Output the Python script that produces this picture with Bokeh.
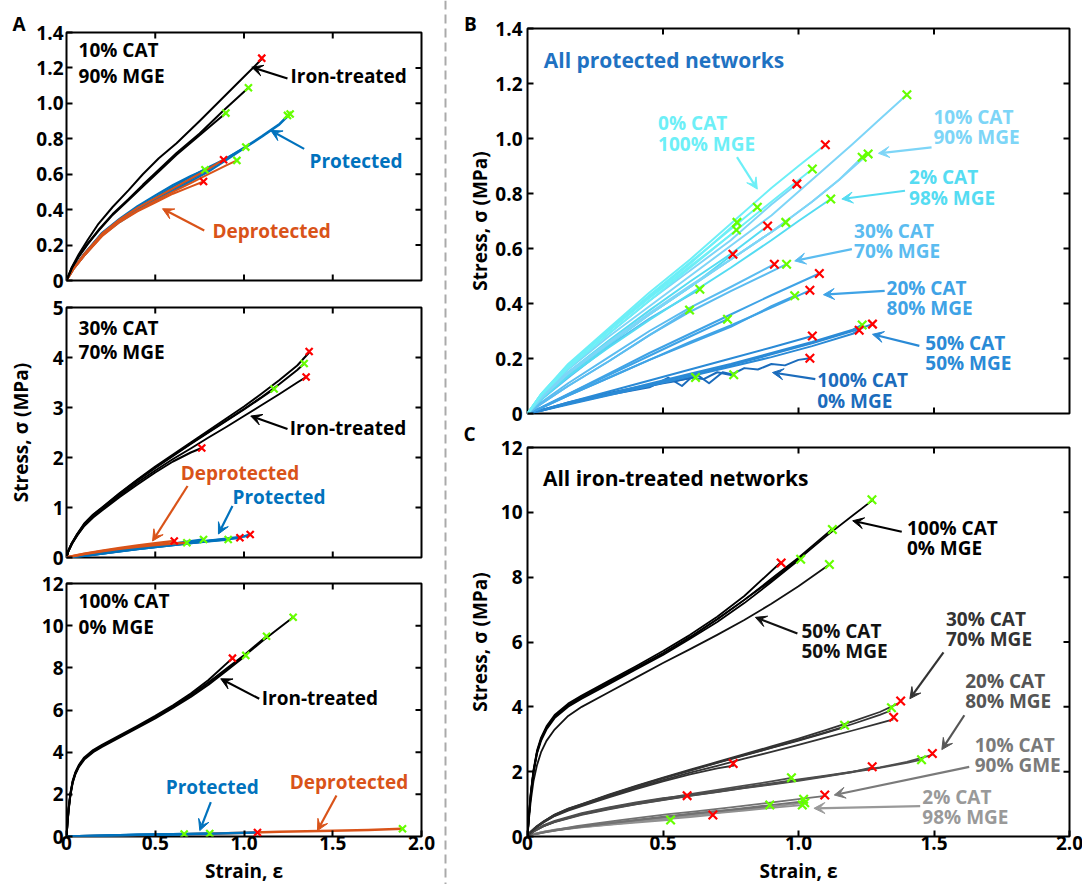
import math
from bokeh.plotting import figure
from bokeh.models import (LinearAxis, FixedTicker, Label, Arrow, VeeHead, Span,
                          Range1d, CustomJSTickFormatter)
from bokeh.layouts import row, column
from bokeh.embed import file_html
from bokeh.resources import INLINE

# ======================= DATA =======================
STRAIN_TICKS = [0, 0.5, 1.0, 1.5, 2.0]
A1_TICKS = [0, 0.2, 0.4, 0.6, 0.8, 1.0, 1.2, 1.4]
A2_TICKS = [0, 1, 2, 3, 4, 5]
A3_TICKS = [0, 2, 4, 6, 8, 10, 12]
B_TICKS = [0, 0.2, 0.4, 0.6, 0.8, 1.0, 1.2, 1.4]
C_TICKS = [0, 2, 4, 6, 8, 10, 12]

# ---- Panel A, top: 10% CAT / 90% MGE ----
A1_IRON_X = [
    [0, 0.03, 0.07, 0.12, 0.18, 0.26, 0.35, 0.43, 0.52, 0.62, 0.75, 0.88, 1.0, 1.10],
    [0, 0.03, 0.07, 0.12, 0.18, 0.26, 0.35, 0.43, 0.52, 0.62, 0.75, 0.898],
    [0, 0.03, 0.07, 0.12, 0.18, 0.26, 0.35, 0.43, 0.52, 0.62, 0.75, 0.88, 1.025],
]
A1_IRON_Y = [
    [0, 0.075, 0.15, 0.23, 0.32, 0.415, 0.51, 0.60, 0.69, 0.775, 0.9, 1.03, 1.15, 1.25],
    [0, 0.07, 0.135, 0.205, 0.28, 0.37, 0.455, 0.53, 0.615, 0.71, 0.82, 0.945],
    [0, 0.07, 0.14, 0.21, 0.285, 0.375, 0.46, 0.54, 0.625, 0.72, 0.83, 0.955, 1.088],
]
A1_PROT_X = [
    [0, 0.04, 0.1, 0.2, 0.3, 0.4, 0.5, 0.6, 0.7, 0.8, 0.9, 1.0, 1.1, 1.2, 1.25],
    [0, 0.04, 0.1, 0.2, 0.3, 0.4, 0.5, 0.6, 0.7, 0.8, 0.9, 1.0, 1.1, 1.2, 1.26],
    [0, 0.04, 0.1, 0.2, 0.3, 0.4, 0.5, 0.6, 0.7, 0.8, 0.9, 1.01],
    [0, 0.04, 0.1, 0.2, 0.3, 0.4, 0.5, 0.6, 0.7, 0.78],
]
A1_PROT_Y = [
    [0, 0.07, 0.15, 0.265, 0.34, 0.405, 0.46, 0.515, 0.57, 0.625, 0.69, 0.75, 0.815, 0.885, 0.935],
    [0, 0.065, 0.14, 0.255, 0.33, 0.395, 0.45, 0.505, 0.56, 0.615, 0.68, 0.745, 0.81, 0.88, 0.94],
    [0, 0.07, 0.15, 0.265, 0.345, 0.41, 0.47, 0.53, 0.585, 0.64, 0.69, 0.753],
    [0, 0.07, 0.15, 0.27, 0.35, 0.42, 0.48, 0.54, 0.59, 0.625],
]
A1_DEPROT_X = [
    [0, 0.04, 0.1, 0.2, 0.3, 0.4, 0.5, 0.6, 0.7, 0.772],
    [0, 0.04, 0.1, 0.2, 0.3, 0.4, 0.5, 0.6, 0.7, 0.8, 0.885],
    [0, 0.04, 0.1, 0.2, 0.3, 0.4, 0.5, 0.6, 0.7, 0.8, 0.9, 0.96],
]
A1_DEPROT_Y = [
    [0, 0.065, 0.14, 0.25, 0.33, 0.39, 0.44, 0.49, 0.53, 0.559],
    [0, 0.07, 0.15, 0.265, 0.345, 0.41, 0.465, 0.52, 0.575, 0.63, 0.682],
    [0, 0.065, 0.14, 0.255, 0.335, 0.395, 0.45, 0.5, 0.55, 0.6, 0.65, 0.678],
]
A1_RED_X = [1.10, 0.885, 0.772]
A1_RED_Y = [1.255, 0.682, 0.559]
A1_GREEN_X = [0.898, 1.025, 0.78, 1.01, 0.96, 1.245, 1.26]
A1_GREEN_Y = [0.945, 1.088, 0.625, 0.753, 0.678, 0.932, 0.94]

# ---- Panel A, middle: 30% CAT / 70% MGE ----
A2_IRON_X = [
    [0, 0.01, 0.03, 0.06, 0.1, 0.15, 0.2, 0.3, 0.4, 0.5, 0.6, 0.7, 0.8, 0.9, 1.0, 1.1, 1.2, 1.3, 1.367],
    [0, 0.01, 0.03, 0.06, 0.1, 0.15, 0.2, 0.3, 0.4, 0.5, 0.6, 0.7, 0.8, 0.9, 1.0, 1.1, 1.2, 1.3, 1.339],
    [0, 0.01, 0.03, 0.06, 0.1, 0.15, 0.2, 0.3, 0.4, 0.5, 0.6, 0.7, 0.8, 0.9, 1.0, 1.1, 1.2, 1.3, 1.35],
    [0, 0.01, 0.03, 0.06, 0.1, 0.15, 0.2, 0.3, 0.4, 0.5, 0.6, 0.7, 0.8, 0.9, 1.0, 1.1, 1.17],
    [0, 0.01, 0.03, 0.06, 0.1, 0.15, 0.2, 0.3, 0.4, 0.5, 0.6, 0.7, 0.762],
]
A2_IRON_Y = [
    [0, 0.13, 0.29, 0.47, 0.68, 0.86, 1.0, 1.29, 1.56, 1.82, 2.06, 2.3, 2.54, 2.78, 3.02, 3.28, 3.55, 3.84, 4.1],
    [0, 0.13, 0.28, 0.46, 0.67, 0.85, 0.99, 1.28, 1.55, 1.8, 2.04, 2.28, 2.51, 2.74, 2.97, 3.21, 3.47, 3.75, 3.88],
    [0, 0.12, 0.27, 0.44, 0.64, 0.82, 0.96, 1.24, 1.5, 1.74, 1.97, 2.18, 2.4, 2.61, 2.83, 3.05, 3.27, 3.5, 3.61],
    [0, 0.13, 0.28, 0.46, 0.66, 0.84, 0.98, 1.27, 1.54, 1.79, 2.03, 2.27, 2.5, 2.73, 2.96, 3.2, 3.37],
    [0, 0.12, 0.27, 0.44, 0.63, 0.8, 0.94, 1.21, 1.46, 1.7, 1.92, 2.1, 2.19],
]
A2_PROT_X = [
    [0, 0.1, 0.2, 0.3, 0.4, 0.5, 0.6, 0.7, 0.8, 0.9, 1.0, 1.035],
    [0, 0.1, 0.2, 0.3, 0.4, 0.5, 0.6, 0.7, 0.8, 0.9, 0.977],
    [0, 0.1, 0.2, 0.3, 0.4, 0.5, 0.6, 0.7, 0.8, 0.911],
    [0, 0.1, 0.2, 0.3, 0.4, 0.5, 0.6, 0.7, 0.772],
]
A2_PROT_Y = [
    [0, 0.035, 0.08, 0.13, 0.175, 0.215, 0.255, 0.295, 0.335, 0.375, 0.42, 0.46],
    [0, 0.035, 0.08, 0.125, 0.17, 0.21, 0.25, 0.29, 0.33, 0.365, 0.395],
    [0, 0.035, 0.08, 0.125, 0.17, 0.21, 0.25, 0.29, 0.325, 0.36],
    [0, 0.04, 0.09, 0.14, 0.185, 0.23, 0.275, 0.325, 0.36],
]
A2_DEPROT_X = [
    [0, 0.05, 0.1, 0.2, 0.3, 0.4, 0.5, 0.607],
    [0, 0.05, 0.1, 0.2, 0.3, 0.4, 0.5, 0.6, 0.678],
]
A2_DEPROT_Y = [
    [0, 0.04, 0.075, 0.135, 0.19, 0.24, 0.285, 0.33],
    [0, 0.035, 0.07, 0.125, 0.175, 0.215, 0.25, 0.28, 0.295],
]
A2_RED_X = [1.367, 1.35, 0.762, 0.607, 0.977, 1.035]
A2_RED_Y = [4.12, 3.61, 2.19, 0.33, 0.395, 0.46]
A2_GREEN_X = [1.339, 1.17, 0.678, 0.772, 0.911]
A2_GREEN_Y = [3.88, 3.37, 0.295, 0.36, 0.36]

# ---- Panel A, bottom: 100% CAT / 0% MGE ----
A3_IRON_X = [
    [0, 0.005, 0.012, 0.022, 0.035, 0.05, 0.07, 0.1, 0.15, 0.2, 0.3, 0.4, 0.5, 0.6, 0.7, 0.8, 0.9, 1.0, 1.1, 1.2, 1.277],
    [0, 0.005, 0.012, 0.022, 0.035, 0.05, 0.07, 0.1, 0.15, 0.2, 0.3, 0.4, 0.5, 0.6, 0.7, 0.8, 0.9, 1.0, 1.127],
    [0, 0.005, 0.012, 0.022, 0.035, 0.05, 0.07, 0.1, 0.15, 0.2, 0.3, 0.4, 0.5, 0.6, 0.7, 0.8, 0.9, 1.01],
    [0, 0.005, 0.012, 0.022, 0.035, 0.05, 0.07, 0.1, 0.15, 0.2, 0.3, 0.4, 0.5, 0.6, 0.7, 0.8, 0.935],
]
A3_IRON_Y = [
    [0, 0.6, 1.3, 2.0, 2.6, 3.0, 3.35, 3.7, 4.05, 4.3, 4.75, 5.2, 5.65, 6.15, 6.7, 7.3, 7.9, 8.55, 9.25, 9.9, 10.4],
    [0, 0.6, 1.3, 2.0, 2.6, 3.0, 3.35, 3.7, 4.05, 4.3, 4.75, 5.2, 5.65, 6.15, 6.7, 7.3, 7.95, 8.6, 9.5],
    [0, 0.55, 1.25, 1.95, 2.55, 2.95, 3.3, 3.65, 4.0, 4.25, 4.7, 5.15, 5.6, 6.1, 6.62, 7.2, 7.85, 8.59],
    [0, 0.65, 1.35, 2.05, 2.65, 3.05, 3.4, 3.75, 4.1, 4.35, 4.8, 5.25, 5.72, 6.22, 6.78, 7.42, 8.46],
]
A3_PROT_X = [[0, 0.2, 0.4, 0.6, 0.663], [0, 0.2, 0.4, 0.6, 0.807], [0, 0.2, 0.4, 0.6, 0.8, 1.076]]
A3_PROT_Y = [[0, 0.04, 0.08, 0.11, 0.12], [0, 0.04, 0.08, 0.11, 0.14], [0, 0.035, 0.07, 0.1, 0.135, 0.19]]
A3_DEPROT_X = [[0, 0.3, 0.6, 0.9, 1.2, 1.5, 1.7, 1.893]]
A3_DEPROT_Y = [[0, 0.05, 0.1, 0.16, 0.22, 0.27, 0.31, 0.37]]
A3_RED_X = [0.935, 1.076]
A3_RED_Y = [8.46, 0.19]
A3_GREEN_X = [1.277, 1.127, 1.01, 0.663, 0.807, 1.893]
A3_GREEN_Y = [10.4, 9.5, 8.59, 0.12, 0.14, 0.37]

# ---- Panel B: all protected networks ----
B_0_X = [
    [0, 0.05, 0.15, 0.3, 0.45, 0.6, 0.75, 0.9, 1.0, 1.099],
    [0, 0.05, 0.15, 0.3, 0.45, 0.6, 0.75, 0.848],
    [0, 0.05, 0.15, 0.3, 0.45, 0.6, 0.773],
    [0, 0.05, 0.15, 0.3, 0.45, 0.6, 0.771],
    [0, 0.05, 0.15, 0.3, 0.45, 0.6, 0.75, 0.9, 1.051],
]
B_0_Y = [
    [0, 0.07, 0.18, 0.31, 0.44, 0.56, 0.69, 0.82, 0.9, 0.977],
    [0, 0.07, 0.175, 0.305, 0.43, 0.55, 0.67, 0.75],
    [0, 0.07, 0.175, 0.3, 0.425, 0.545, 0.695],
    [0, 0.065, 0.165, 0.29, 0.41, 0.53, 0.667],
    [0, 0.07, 0.175, 0.3, 0.42, 0.535, 0.65, 0.77, 0.889],
]
B_10_X = [
    [0, 0.05, 0.15, 0.3, 0.45, 0.6, 0.75, 0.9, 1.05, 1.2, 1.3, 1.4],
    [0, 0.05, 0.15, 0.3, 0.45, 0.6, 0.75, 0.9, 1.05, 1.15, 1.257],
    [0, 0.05, 0.15, 0.3, 0.45, 0.6, 0.75, 0.9, 1.05, 1.15, 1.235],
    [0, 0.05, 0.15, 0.3, 0.45, 0.6, 0.75, 0.9, 0.994],
]
B_10_Y = [
    [0, 0.06, 0.16, 0.28, 0.39, 0.5, 0.61, 0.72, 0.85, 0.98, 1.07, 1.159],
    [0, 0.055, 0.15, 0.26, 0.365, 0.465, 0.56, 0.66, 0.77, 0.85, 0.944],
    [0, 0.055, 0.145, 0.255, 0.36, 0.46, 0.56, 0.66, 0.77, 0.85, 0.932],
    [0, 0.065, 0.165, 0.29, 0.41, 0.52, 0.63, 0.76, 0.835],
]
B_2_X = [
    [0, 0.05, 0.15, 0.3, 0.45, 0.6, 0.75, 0.9, 1.0, 1.119],
    [0, 0.05, 0.15, 0.3, 0.45, 0.6, 0.75, 0.953],
    [0, 0.05, 0.15, 0.3, 0.45, 0.6, 0.75, 0.886],
    [0, 0.05, 0.15, 0.3, 0.45, 0.6, 0.758],
]
B_2_Y = [
    [0, 0.05, 0.135, 0.24, 0.34, 0.435, 0.53, 0.63, 0.7, 0.78],
    [0, 0.055, 0.145, 0.255, 0.36, 0.46, 0.56, 0.695],
    [0, 0.06, 0.15, 0.265, 0.375, 0.48, 0.58, 0.682],
    [0, 0.055, 0.14, 0.25, 0.36, 0.46, 0.579],
]
B_30_X = [
    [0, 0.05, 0.15, 0.3, 0.45, 0.6, 0.75, 0.956],
    [0, 0.05, 0.15, 0.3, 0.45, 0.6, 0.75, 0.911],
    [0, 0.05, 0.15, 0.3, 0.45, 0.636],
    [0, 0.05, 0.15, 0.3, 0.45, 0.598],
]
B_30_Y = [
    [0, 0.035, 0.1, 0.19, 0.285, 0.37, 0.445, 0.543],
    [0, 0.04, 0.11, 0.205, 0.3, 0.385, 0.46, 0.543],
    [0, 0.05, 0.13, 0.245, 0.345, 0.452],
    [0, 0.035, 0.1, 0.19, 0.285, 0.376],
]
B_20_X = [
    [0, 0.05, 0.15, 0.3, 0.45, 0.6, 0.75, 0.9, 1.077],
    [0, 0.05, 0.15, 0.3, 0.45, 0.6, 0.75, 0.9, 1.042],
    [0, 0.05, 0.15, 0.3, 0.45, 0.6, 0.75, 0.9, 0.986],
    [0, 0.05, 0.15, 0.3, 0.45, 0.6, 0.738],
]
B_20_Y = [
    [0, 0.02, 0.07, 0.145, 0.22, 0.29, 0.36, 0.43, 0.509],
    [0, 0.02, 0.065, 0.13, 0.195, 0.26, 0.32, 0.385, 0.448],
    [0, 0.02, 0.065, 0.13, 0.195, 0.255, 0.315, 0.39, 0.428],
    [0, 0.022, 0.07, 0.14, 0.21, 0.28, 0.343],
]
B_50_X = [
    [0, 0.05, 0.15, 0.3, 0.45, 0.6, 0.75, 0.9, 1.05, 1.2, 1.273],
    [0, 0.05, 0.15, 0.3, 0.45, 0.6, 0.75, 0.9, 1.05, 1.2, 1.235],
    [0, 0.05, 0.15, 0.3, 0.45, 0.6, 0.75, 0.9, 1.05, 1.2, 1.224],
    [0, 0.05, 0.15, 0.3, 0.45, 0.6, 0.75, 0.9, 1.051],
]
B_50_Y = [
    [0, 0.01, 0.035, 0.07, 0.105, 0.14, 0.175, 0.215, 0.255, 0.3, 0.325],
    [0, 0.01, 0.036, 0.072, 0.108, 0.145, 0.18, 0.22, 0.26, 0.305, 0.322],
    [0, 0.01, 0.033, 0.066, 0.1, 0.135, 0.17, 0.205, 0.245, 0.29, 0.303],
    [0, 0.012, 0.04, 0.08, 0.12, 0.16, 0.2, 0.24, 0.282],
]
B_100_X = [
    [0, 0.05, 0.15, 0.3, 0.4, 0.45, 0.5, 0.55, 0.6, 0.65, 0.7, 0.75, 0.8, 0.85, 0.9, 0.95, 1.0, 1.042],
    [0, 0.05, 0.15, 0.3, 0.45, 0.52, 0.57, 0.62, 0.67, 0.72, 0.761],
    [0, 0.05, 0.15, 0.3, 0.45, 0.62],
]
B_100_Y = [
    [0, 0.012, 0.035, 0.07, 0.09, 0.1, 0.11, 0.118, 0.13, 0.125, 0.15, 0.14, 0.165, 0.16, 0.18, 0.175, 0.195, 0.201],
    [0, 0.012, 0.035, 0.068, 0.095, 0.13, 0.1, 0.145, 0.11, 0.15, 0.141],
    [0, 0.012, 0.04, 0.075, 0.105, 0.131],
]
B_RED_X = [1.099, 0.994, 0.886, 0.758, 0.911, 1.077, 1.042, 1.273, 1.224, 1.051, 1.042]
B_RED_Y = [0.977, 0.835, 0.682, 0.579, 0.543, 0.509, 0.448, 0.325, 0.303, 0.282, 0.201]
B_GREEN_X = [1.40, 1.051, 1.235, 1.257, 1.119, 0.848, 0.953, 0.773, 0.771, 0.956, 0.636, 0.598,
             0.986, 0.738, 1.235, 0.62, 0.761]
B_GREEN_Y = [1.159, 0.889, 0.932, 0.944, 0.78, 0.75, 0.695, 0.695, 0.667, 0.543, 0.452, 0.376,
             0.428, 0.343, 0.322, 0.131, 0.141]

# ---- Panel C: all iron-treated networks ----
C_100_X, C_100_Y = A3_IRON_X, A3_IRON_Y
C_30_X, C_30_Y = A2_IRON_X, A2_IRON_Y
C_10_X, C_10_Y = A1_IRON_X, A1_IRON_Y
C_50_X = [[0, 0.005, 0.012, 0.022, 0.035, 0.05, 0.07, 0.1, 0.15, 0.2, 0.3, 0.4, 0.5, 0.6, 0.7, 0.8, 0.9, 1.0, 1.114]]
C_50_Y = [[0, 0.5, 1.1, 1.7, 2.2, 2.6, 2.95, 3.3, 3.72, 4.0, 4.45, 4.9, 5.35, 5.78, 6.22, 6.68, 7.18, 7.72, 8.39]]
C_20_X = [
    [0, 0.01, 0.03, 0.06, 0.1, 0.2, 0.3, 0.4, 0.5, 0.6, 0.7, 0.8, 0.9, 1.0, 1.1, 1.2, 1.3, 1.4, 1.494],
    [0, 0.01, 0.03, 0.06, 0.1, 0.2, 0.3, 0.4, 0.5, 0.6, 0.7, 0.8, 0.9, 1.0, 1.1, 1.2, 1.3, 1.4, 1.454],
    [0, 0.01, 0.03, 0.06, 0.1, 0.2, 0.3, 0.4, 0.5, 0.6, 0.7, 0.8, 0.9, 1.0, 1.1, 1.2, 1.272],
    [0, 0.01, 0.03, 0.06, 0.1, 0.2, 0.3, 0.4, 0.5, 0.6, 0.7, 0.8, 0.9, 0.974],
    [0, 0.01, 0.03, 0.06, 0.1, 0.2, 0.3, 0.4, 0.5, 0.589],
]
C_20_Y = [
    [0, 0.08, 0.2, 0.33, 0.46, 0.7, 0.87, 1.02, 1.15, 1.28, 1.4, 1.52, 1.64, 1.76, 1.88, 2.0, 2.13, 2.3, 2.52],
    [0, 0.08, 0.19, 0.32, 0.45, 0.68, 0.85, 1.0, 1.13, 1.26, 1.38, 1.5, 1.62, 1.74, 1.86, 1.99, 2.12, 2.27, 2.37],
    [0, 0.08, 0.19, 0.32, 0.44, 0.67, 0.84, 0.99, 1.12, 1.25, 1.37, 1.49, 1.6, 1.72, 1.85, 1.99, 2.13],
    [0, 0.08, 0.2, 0.33, 0.46, 0.7, 0.88, 1.03, 1.17, 1.31, 1.44, 1.57, 1.7, 1.81],
    [0, 0.09, 0.21, 0.35, 0.48, 0.72, 0.9, 1.05, 1.18, 1.26],
]
C_2_X = [
    [0, 0.01, 0.03, 0.06, 0.1, 0.2, 0.3, 0.4, 0.5, 0.6, 0.7, 0.8, 0.9, 1.023],
    [0, 0.01, 0.03, 0.06, 0.1, 0.2, 0.3, 0.4, 0.5, 0.6, 0.7, 0.8, 0.9, 1.014],
    [0, 0.01, 0.03, 0.06, 0.1, 0.2, 0.3, 0.4, 0.5, 0.6, 0.684],
    [0, 0.01, 0.03, 0.06, 0.1, 0.2, 0.3, 0.4, 0.528],
]
C_2_Y = [
    [0, 0.04, 0.09, 0.15, 0.21, 0.32, 0.41, 0.5, 0.58, 0.66, 0.74, 0.83, 0.92, 1.04],
    [0, 0.04, 0.09, 0.145, 0.2, 0.31, 0.4, 0.48, 0.56, 0.64, 0.72, 0.8, 0.88, 0.97],
    [0, 0.04, 0.085, 0.14, 0.19, 0.29, 0.37, 0.45, 0.53, 0.6, 0.665],
    [0, 0.04, 0.085, 0.14, 0.19, 0.28, 0.36, 0.43, 0.51],
]
C_RED_X = [0.936, 1.377, 1.351, 0.759, 1.494, 1.272, 0.589, 1.097, 0.684]
C_RED_Y = [8.44, 4.18, 3.68, 2.25, 2.56, 2.15, 1.26, 1.28, 0.665]
C_GREEN_X = [1.271, 1.125, 1.008, 1.114, 1.343, 1.17, 1.454, 0.974, 1.019, 0.894, 1.014, 1.023, 0.528]
C_GREEN_Y = [10.39, 9.47, 8.55, 8.39, 3.97, 3.43, 2.37, 1.81, 1.15, 0.97, 0.97, 1.04, 0.51]

# ======================= STYLE =======================
FONT = "Open Sans"
TXT = "19px"
BLUE = "#0072BD"
ORANGE = "#D95319"
RED = "#FF0000"
GREEN = "#66FF00"
COL_B = {"0": "#6DEFF7", "10": "#7DD5F7", "2": "#55DCF2", "30": "#5BBCF0",
         "20": "#3FA3E6", "50": "#2A8AD6", "100": "#1B6CBC"}
COL_C = {"100": "#000000", "50": "#111111", "30": "#333333", "20": "#4d4d4d",
         "10": "#727272", "2": "#919191"}
FMT1 = "return tick == 0 ? '0' : tick.toFixed(1);"
FMT0 = "return tick.toFixed(0);"


def base_fig(fw, fh, ymax, bl, br, bt, bb):
    p = figure(frame_width=fw, frame_height=fh, x_range=Range1d(0, 2), y_range=Range1d(0, ymax),
               x_axis_type=None, y_axis_type=None, output_backend="svg", toolbar_location=None,
               min_border_left=bl, min_border_right=br, min_border_top=bt, min_border_bottom=bb)
    p.outline_line_color = "black"
    p.outline_line_width = 2
    p.outline_line_alpha = 1.0
    p.background_fill_color = "white"
    p.border_fill_color = "white"
    return p


def gutter(w, h):
    g = figure(frame_width=w, frame_height=h, x_range=Range1d(0, w), y_range=Range1d(0, h),
               x_axis_type=None, y_axis_type=None, output_backend="svg", toolbar_location=None,
               min_border_left=0, min_border_right=0, min_border_top=0, min_border_bottom=0)
    g.outline_line_color = None
    g.background_fill_color = "white"
    g.border_fill_color = "white"
    return g


def add_axis(p, side, ticks, fmt, tick_standoff, label=None, label_standoff=0):
    ax = LinearAxis(ticker=FixedTicker(ticks=ticks, minor_ticks=[]),
                    formatter=CustomJSTickFormatter(code=fmt))
    ax.axis_line_color = None
    ax.major_tick_in = 6
    ax.major_tick_out = 0
    ax.major_tick_line_color = "black"
    ax.major_tick_line_width = 2
    ax.minor_tick_line_color = None
    ax.major_label_text_font = FONT
    ax.major_label_text_font_style = "bold"
    ax.major_label_text_font_size = TXT
    ax.major_label_text_color = "black"
    ax.major_label_standoff = tick_standoff
    if label:
        ax.axis_label = label
        ax.axis_label_text_font = FONT
        ax.axis_label_text_font_style = "bold"
        ax.axis_label_text_font_size = TXT
        ax.axis_label_text_color = "black"
        ax.axis_label_standoff = label_standoff
    p.add_layout(ax, side)


def edge_ticks(p, xt, yt, top=True, bottom=False, right=True):
    """Inward tick marks on unlabeled sides: a dash centred on the frame edge, half clipped."""
    xs = [t for t in xt if 0 < t < 2]
    ymax = yt[-1]
    ys = [t for t in yt if 0 < t < ymax]
    if top:
        p.scatter(x=xs, y=[ymax] * len(xs), marker="dash", angle=math.pi / 2, size=12,
                  line_color="black", line_width=2)
    if bottom:
        p.scatter(x=xs, y=[0] * len(xs), marker="dash", angle=math.pi / 2, size=12,
                  line_color="black", line_width=2)
    if right:
        p.scatter(x=[2] * len(ys), y=ys, marker="dash", size=12, line_color="black", line_width=2)


def text(p, x, ys, lines, color, size=TXT, align="left", baseline="middle", angle=0.0):
    for y, t in zip(ys, lines):
        p.add_layout(Label(x=x, y=y, text=t, text_font=FONT, text_font_style="bold",
                           text_font_size=size, text_color=color, text_align=align,
                           text_baseline=baseline, angle=angle))


def arrow(p, x0, y0, x1, y1, color):
    p.add_layout(Arrow(end=VeeHead(size=11, fill_color=color, line_color=color, line_width=1),
                       x_start=x0, y_start=y0, x_end=x1, y_end=y1,
                       line_color=color, line_width=2.2))


def curves(p, xs, ys, color, lw=2.0):
    p.multi_line(xs=xs, ys=ys, line_color=color, line_width=lw, line_join="round")


def marks(p, rx, ry, gx, gy, size=10):
    p.scatter(x=gx, y=gy, marker="x", size=size, line_color=GREEN, line_width=2.2)
    p.scatter(x=rx, y=ry, marker="x", size=size, line_color=RED, line_width=2.2)


# ======================= PANEL A (page x 33..441) =======================
a1 = base_fig(355, 248, 1.4, 31, 22, 32, 13)
add_axis(a1, "left", A1_TICKS, FMT1, 3)
edge_ticks(a1, STRAIN_TICKS, A1_TICKS, top=True, bottom=True, right=True)
curves(a1, A1_PROT_X, A1_PROT_Y, BLUE)
curves(a1, A1_DEPROT_X, A1_DEPROT_Y, ORANGE)
curves(a1, A1_IRON_X, A1_IRON_Y, "black")
marks(a1, A1_RED_X, A1_RED_Y, A1_GREEN_X, A1_GREEN_Y)
text(a1, 0.068, [1.304, 1.157], ["10% CAT", "90% MGE"], "black")
text(a1, 1.262, [1.157], ["Iron-treated"], "black")
arrow(a1, 1.245, 1.14, 1.044, 1.204, "black")
text(a1, 1.369, [0.677], ["Protected"], BLUE)
arrow(a1, 1.339, 0.743, 1.151, 0.847, BLUE)
text(a1, 0.822, [0.282], ["Deprotected"], ORANGE)
arrow(a1, 0.776, 0.282, 0.541, 0.405, ORANGE)

a2 = base_fig(355, 250, 5, 31, 22, 14, 12)
add_axis(a2, "left", A2_TICKS, FMT0, 3)
edge_ticks(a2, STRAIN_TICKS, A2_TICKS, top=True, bottom=True, right=True)
curves(a2, A2_IRON_X, A2_IRON_Y, "black")
curves(a2, A2_PROT_X, A2_PROT_Y, BLUE, 2.5)
curves(a2, A2_DEPROT_X, A2_DEPROT_Y, ORANGE, 2.5)
marks(a2, A2_RED_X, A2_RED_Y, A2_GREEN_X, A2_GREEN_Y)
text(a2, 0.068, [4.6, 4.11], ["30% CAT", "70% MGE"], "black")
text(a2, 1.258, [2.6], ["Iron-treated"], "black")
arrow(a2, 1.245, 2.57, 1.038, 2.83, "black")
text(a2, 0.644, [1.7], ["Deprotected"], ORANGE)
arrow(a2, 0.682, 1.43, 0.485, 0.33, ORANGE)
text(a2, 0.935, [1.21], ["Protected"], BLUE)
arrow(a2, 0.935, 1.03, 0.856, 0.47, BLUE)

a3 = base_fig(355, 253, 12, 31, 22, 14, 48)
add_axis(a3, "left", A3_TICKS, FMT0, 3)
add_axis(a3, "below", STRAIN_TICKS, FMT1, -1, label="Strain, ε", label_standoff=5)
edge_ticks(a3, STRAIN_TICKS, A3_TICKS, top=True, bottom=False, right=True)
curves(a3, A3_IRON_X, A3_IRON_Y, "black")
curves(a3, A3_DEPROT_X, A3_DEPROT_Y, ORANGE, 2.5)
curves(a3, A3_PROT_X, A3_PROT_Y, BLUE, 2.5)
marks(a3, A3_RED_X, A3_RED_Y, A3_GREEN_X, A3_GREEN_Y)
text(a3, 0.068, [11.16, 9.96], ["100% CAT", "0% MGE"], "black")
text(a3, 1.10, [6.56], ["Iron-treated"], "black")
arrow(a3, 1.086, 6.53, 0.869, 7.48, "black")
text(a3, 0.559, [2.37], ["Protected"], BLUE)
arrow(a3, 0.813, 1.63, 0.751, 0.28, BLUE)
text(a3, 1.258, [2.58], ["Deprotected"], ORANGE)
arrow(a3, 1.521, 1.94, 1.414, 0.28, ORANGE)

# left gutter (page x 0..33, full height): letter A and the y label of panel A
gut_l = gutter(33, 884)
text(gut_l, 18.5, [861], ["A"], "black", align="center")
text(gut_l, 20, [452], ["Stress, σ (MPa)"], "black", align="center", angle=math.pi / 2)

# ======================= PANEL B (page x 490..1082) =======================
b = base_fig(542, 385, 1.4, 33, 17, 28, 21)
add_axis(b, "left", B_TICKS, FMT1, 5)
edge_ticks(b, STRAIN_TICKS, B_TICKS, top=True, bottom=True, right=True)
curves(b, B_100_X, B_100_Y, COL_B["100"])
curves(b, B_50_X, B_50_Y, COL_B["50"])
curves(b, B_20_X, B_20_Y, COL_B["20"])
curves(b, B_30_X, B_30_Y, COL_B["30"])
curves(b, B_2_X, B_2_Y, COL_B["2"])
curves(b, B_10_X, B_10_Y, COL_B["10"])
curves(b, B_0_X, B_0_Y, COL_B["0"])
marks(b, B_RED_X, B_RED_Y, B_GREEN_X, B_GREEN_Y, size=12)
text(b, 0.06, [1.284], ["All protected networks"], "#1F72C2", size="21px")
text(b, 0.482, [1.056, 0.98], ["0% CAT", "100% MGE"], COL_B["0"])
arrow(b, 0.773, 0.932, 0.848, 0.816, COL_B["0"])
text(b, 1.498, [1.078, 1.005], ["10% CAT", "90% MGE"], COL_B["10"])
arrow(b, 1.491, 0.968, 1.295, 0.946, COL_B["10"])
text(b, 1.408, [0.859, 0.785], ["2% CAT", "98% MGE"], COL_B["2"])
arrow(b, 1.393, 0.81, 1.16, 0.78, COL_B["2"])
text(b, 1.205, [0.664, 0.592], ["30% CAT", "70% MGE"], COL_B["30"])
arrow(b, 1.197, 0.598, 0.986, 0.555, COL_B["30"])
text(b, 1.325, [0.458, 0.383], ["20% CAT", "80% MGE"], COL_B["20"])
arrow(b, 1.318, 0.446, 1.092, 0.432, COL_B["20"])
text(b, 1.468, [0.258, 0.182], ["50% CAT", "50% MGE"], COL_B["50"])
arrow(b, 1.446, 0.246, 1.273, 0.288, COL_B["50"])
text(b, 1.069, [0.121, 0.046], ["100% CAT", "0% MGE"], COL_B["100"])
arrow(b, 1.062, 0.125, 0.904, 0.149, COL_B["100"])

# ======================= PANEL C =======================
c = base_fig(542, 389, 12, 33, 17, 13, 48)
add_axis(c, "left", C_TICKS, FMT0, 5)
add_axis(c, "below", STRAIN_TICKS, FMT1, -1, label="Strain, ε", label_standoff=5)
edge_ticks(c, STRAIN_TICKS, C_TICKS, top=True, bottom=False, right=True)
curves(c, C_2_X, C_2_Y, COL_C["2"], 1.8)
curves(c, C_10_X, C_10_Y, COL_C["10"], 1.8)
curves(c, C_20_X, C_20_Y, COL_C["20"], 1.8)
curves(c, C_30_X, C_30_Y, COL_C["30"], 1.8)
curves(c, C_50_X, C_50_Y, COL_C["50"], 1.8)
curves(c, C_100_X, C_100_Y, COL_C["100"], 1.8)
marks(c, C_RED_X, C_RED_Y, C_GREEN_X, C_GREEN_Y, size=12)
text(c, 0.057, [11.05], ["All iron-treated networks"], "black", size="21px")
text(c, 1.40, [9.52, 8.9], ["100% CAT", "0% MGE"], "black")
arrow(c, 1.381, 9.40, 1.2, 9.74, "black")
text(c, 1.011, [6.35, 5.73], ["50% CAT", "50% MGE"], COL_C["50"])
arrow(c, 0.996, 6.26, 0.841, 6.76, COL_C["50"])
text(c, 1.544, [6.70, 6.09], ["30% CAT", "70% MGE"], COL_C["30"])
arrow(c, 1.535, 5.68, 1.411, 4.25, COL_C["30"])
text(c, 1.615, [4.79, 4.18], ["20% CAT", "80% MGE"], "#555555")
arrow(c, 1.612, 3.74, 1.529, 2.68, "#555555")
text(c, 1.65, [2.81, 2.2], ["10% CAT", "90% GME"], "#7a7a7a")
arrow(c, 1.63, 2.15, 1.132, 1.28, "#7a7a7a")
text(c, 1.457, [1.23, 0.61], ["2% CAT", "98% MGE"], "#999999")
arrow(c, 1.449, 0.94, 1.057, 0.87, "#999999")

# right gutter (page x 441..490, full height): dashed separator, letters B and C, y labels
gut_r = gutter(49, 884)
gut_r.add_layout(Span(location=2, dimension="height", line_color="#aaaaaa", line_width=2,
                      line_dash="9 5"))
text(gut_r, 27, [861], ["B"], "black", align="center")
text(gut_r, 26, [451], ["C"], "black", align="center")
text(gut_r, 36, [663.5, 242.5], ["Stress, σ (MPa)", "Stress, σ (MPa)"], "black",
     align="center", angle=math.pi / 2)

layout = row(gut_l, column(a1, a2, a3), gut_r, column(b, c))
open("out.html", "w").write(file_html(layout, INLINE))
